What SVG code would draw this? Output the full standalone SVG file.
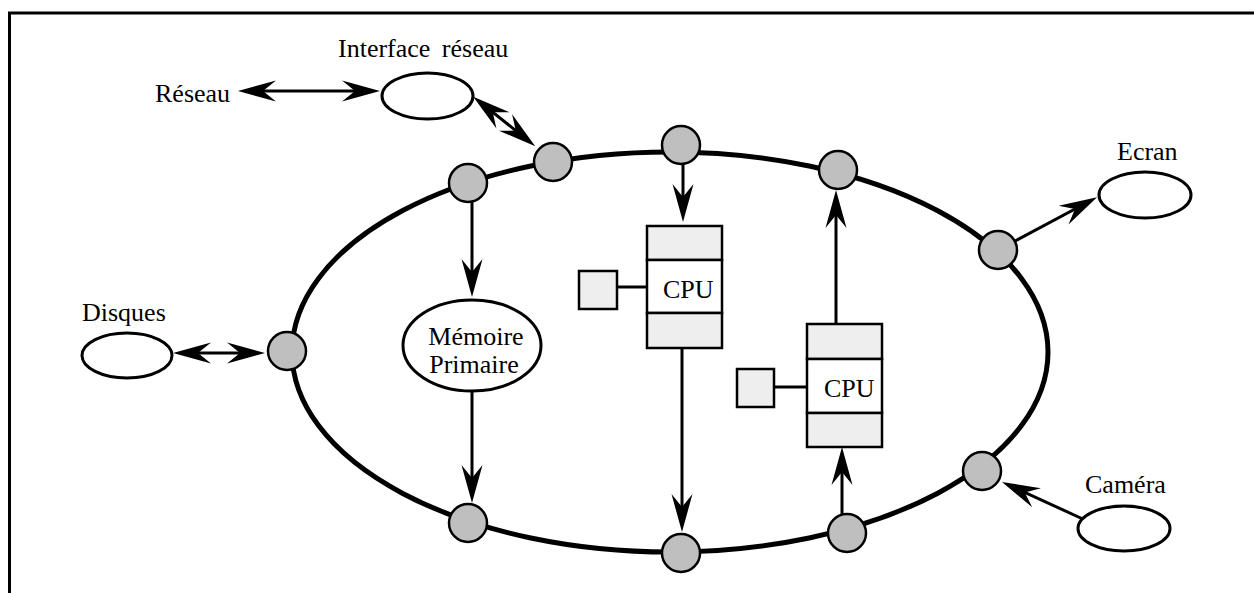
<svg xmlns="http://www.w3.org/2000/svg" width="1254" height="593" viewBox="0 0 1254 593">
<style>
.t{font-family:"Liberation Serif","Times New Roman",serif;font-size:26px;fill:#000}
.node{fill:#bfbfbf;stroke:#000;stroke-width:2.5}
.ell{fill:#fff;stroke:#000;stroke-width:3}
.box{fill:#eeeeee;stroke:#000;stroke-width:2.5}
.mid{fill:#fff;stroke:#000;stroke-width:2.5}
.conn{fill:none;stroke:#000;stroke-width:3}
</style>
<defs>
<marker id="ah" markerUnits="userSpaceOnUse" orient="auto-start-reverse" overflow="visible" refX="0" refY="0" markerWidth="1" markerHeight="1">
<path d="M8,0 L-30,-10.5 L-17,0 L-30,10.5 Z" fill="#000"/>
</marker>
</defs>
<rect width="1254" height="593" fill="#fff"/>
<g id="frame" fill="none" stroke="#000" stroke-width="3">
<path d="M9.5,593 V13 H1254"/>
</g>
<g id="ring"><ellipse cx="670" cy="352" rx="378" ry="200" fill="none" stroke="#000" stroke-width="5"/></g>
<g id="connectors" class="conn">
<path class="conn" d="M246,91 H372" marker-start="url(#ah)" marker-end="url(#ah)"/>
<path class="conn" d="M479.5,101.7 L529,141.2" marker-start="url(#ah)" marker-end="url(#ah)"/>
<path class="conn" d="M181,353 H257" marker-start="url(#ah)" marker-end="url(#ah)"/>
<path class="conn" d="M472,201 V289" marker-end="url(#ah)"/>
<path class="conn" d="M472,391 V495" marker-end="url(#ah)"/>
<path class="conn" d="M683,164 V214" marker-end="url(#ah)"/>
<path class="conn" d="M682,346 V524" marker-end="url(#ah)"/>
<path class="conn" d="M836,324 V198" marker-end="url(#ah)"/>
<path class="conn" d="M842,514 V455" marker-end="url(#ah)"/>
<path class="conn" d="M1015,241 L1090,201" marker-end="url(#ah)"/>
<path class="conn" d="M1085,520 L1009.3,485.3" marker-end="url(#ah)"/>
<path class="conn" d="M617,287 H647"/>
<path class="conn" d="M774,387 H807"/>
</g>
<g id="n1"><circle class="node" cx="468" cy="183" r="19"/></g>
<g id="n2"><circle class="node" cx="553" cy="162" r="19"/></g>
<g id="n3"><circle class="node" cx="681" cy="145" r="19"/></g>
<g id="n4"><circle class="node" cx="838" cy="170" r="19"/></g>
<g id="n5"><circle class="node" cx="998" cy="250" r="19"/></g>
<g id="n6"><circle class="node" cx="287" cy="351" r="19"/></g>
<g id="n7"><circle class="node" cx="468" cy="523" r="19"/></g>
<g id="n8"><circle class="node" cx="681" cy="553" r="19"/></g>
<g id="n9"><circle class="node" cx="847" cy="533" r="19"/></g>
<g id="n10"><circle class="node" cx="982" cy="471" r="19"/></g>
<g id="interface"><ellipse class="ell" cx="427.5" cy="96" rx="45.5" ry="23"/><text class="t" x="338" y="57" word-spacing="5">Interface réseau</text></g>
<g id="reseau"><text class="t" x="155" y="102">Réseau</text></g>
<g id="disques"><ellipse class="ell" cx="127" cy="355.5" rx="45" ry="22.5"/><text class="t" x="82" y="321">Disques</text></g>
<g id="ecran"><ellipse class="ell" cx="1145" cy="195" rx="46" ry="23"/><text class="t" x="1117" y="160">Ecran</text></g>
<g id="camera"><ellipse class="ell" cx="1124" cy="528.5" rx="46" ry="22.5"/><text class="t" x="1085" y="493">Caméra</text></g>
<g id="memoire"><ellipse class="ell" cx="472" cy="345.5" rx="69" ry="45.5"/><text class="t" x="476" y="345" text-anchor="middle">Mémoire</text><text class="t" x="474" y="373" text-anchor="middle">Primaire</text></g>
<g id="cpu1"><rect class="box" x="579" y="271" width="38" height="38"/><rect class="box" x="647" y="226" width="75" height="34"/><rect class="mid" x="647" y="260" width="75" height="53"/><rect class="box" x="647" y="313" width="75" height="35"/><text class="t" x="663" y="298">CPU</text></g>
<g id="cpu2"><rect class="box" x="737" y="369" width="37" height="38"/><rect class="box" x="807" y="324" width="75" height="35"/><rect class="mid" x="807" y="359" width="75" height="54"/><rect class="box" x="807" y="413" width="75" height="34"/><text class="t" x="824" y="397">CPU</text></g>
</svg>
